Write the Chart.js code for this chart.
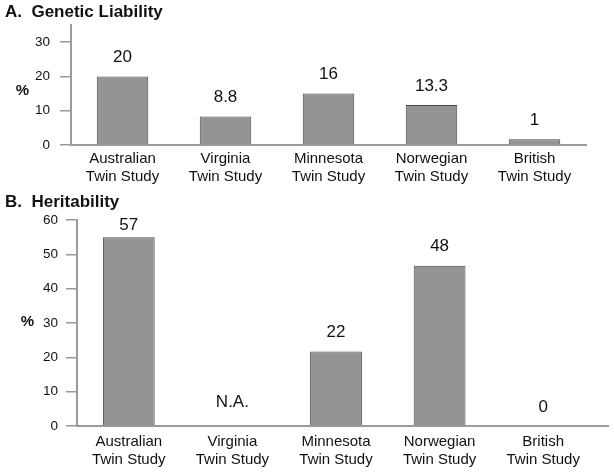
<!DOCTYPE html>
<html>
<head>
<meta charset="utf-8">
<script src="https://cdn.jsdelivr.net/npm/chart.js@4.4.0/dist/chart.umd.min.js"></script>
<style>
  html, body { margin: 0; padding: 0; background: #fff; }
  #wrap { position: relative; width: 614px; height: 472px; }
  .box { position: absolute; left: 0; width: 614px; }
</style>
</head>
<body>
<div id="wrap">
  <div class="box" style="top:0;height:190px"><canvas id="chartA"></canvas></div>
  <div class="box" style="top:190px;height:282px"><canvas id="chartB"></canvas></div>
</div>
<script>
// ---- data ----
const studies = [
  ["Australian", "Twin Study"],
  ["Virginia", "Twin Study"],
  ["Minnesota", "Twin Study"],
  ["Norwegian", "Twin Study"],
  ["British", "Twin Study"]
];

// A. Genetic Liability (bar heights as drawn, labels as printed)
const liabilityBars = [20, 8.3, 15, 11.7, 1.7];
const liabilityText = ["20", "8.8", "16", "13.3", "1"];
const liabilityTicks = [0, 10, 20, 30];

// B. Heritability
const heritBars = [55, null, 21.7, 46.7, 0];
const heritText = ["57", "N.A.", "22", "48", "0"];
const heritTicks = [0, 10, 20, 30, 40, 50, 60];

const FONT = '"Liberation Sans", Arial, sans-serif';
const AXIS = "#9a9a9a";
const INK = "#111";

// draws panel title, the "%" label, the value labels and the axis tail
const panelText = {
  id: "panelText",
  afterDraw(chart, args, opts) {
    const { ctx, chartArea } = chart;
    const x = chart.scales.x, y = chart.scales.y;
    ctx.save();
    ctx.fillStyle = INK;
    ctx.textBaseline = "middle";

    ctx.font = "bold 17px " + FONT;
    ctx.textAlign = "left";
    ctx.fillText(opts.title, 5, opts.titleY);

    ctx.font = "bold 15px " + FONT;
    ctx.textAlign = "center";
    ctx.fillText("%", opts.pctX, opts.pctY);

    ctx.font = "17px " + FONT;
    const data = chart.data.datasets[0].data;
    opts.labels.forEach((txt, i) => {
      const v = data[i];
      let yy = v == null ? y.getPixelForValue(0) - 24 : y.getPixelForValue(v) - 19;
      yy = Math.max(yy, chartArea.top + 5);
      ctx.fillText(txt, x.getPixelForValue(i), yy);
    });

    if (opts.axisTo) {
      ctx.strokeStyle = AXIS;
      ctx.lineWidth = 2;
      ctx.beginPath();
      ctx.moveTo(chartArea.right, chartArea.bottom);
      ctx.lineTo(opts.axisTo, chartArea.bottom);
      ctx.stroke();
    }
    ctx.restore();
  }
};

function makeChart(id, bars, text, yTicks, yMax, cfg) {
  return new Chart(document.getElementById(id), {
    type: "bar",
    data: {
      labels: studies,
      datasets: [{
        data: bars,
        backgroundColor: "#949494",
        borderColor: "#4a4a4a",
        borderWidth: 1,
        barPercentage: 0.5,
        categoryPercentage: 1
      }]
    },
    plugins: [panelText],
    options: {
      responsive: true,
      maintainAspectRatio: false,
      animation: false,
      layout: { padding: { top: cfg.top, right: cfg.right, left: 0, bottom: 0 } },
      plugins: {
        legend: { display: false },
        tooltip: { enabled: false },
        panelText: {
          title: cfg.title, titleY: cfg.titleY,
          pctX: cfg.pctX, pctY: cfg.pctY,
          labels: text, axisTo: cfg.axisTo
        }
      },
      scales: {
        x: {
          grid: { display: false, drawTicks: false },
          border: { display: true, color: AXIS, width: 2 },
          ticks: {
            color: INK, padding: cfg.xPad, maxRotation: 0, autoSkip: false,
            font: { family: FONT, size: 15, lineHeight: cfg.lineH }
          },
          afterFit: (s) => { s.height = cfg.xHeight; }
        },
        y: {
          min: 0, max: yMax,
          grid: { display: true, drawOnChartArea: false, drawTicks: true, tickLength: 11, color: AXIS, lineWidth: 1.5 },
          border: { display: true, color: AXIS, width: 2 },
          ticks: { color: INK, padding: cfg.yPad, font: { family: FONT, size: 13.5 } },
          afterBuildTicks: (s) => { s.ticks = yTicks.map((v) => ({ value: v })); },
          afterFit: (s) => { s.width = cfg.yWidth; }
        }
      }
    }
  });
}

document.addEventListener("DOMContentLoaded", () => {
  makeChart("chartA", liabilityBars, liabilityText, liabilityTicks, 35, {
    title: "A.  Genetic Liability", titleY: 12,
    top: 25, right: 28, yWidth: 71, xHeight: 45,
    xPad: 4, lineH: 1.25, yPad: 10,
    pctX: 22.5, pctY: 91
  });
  makeChart("chartB", heritBars, heritText, heritTicks, 60, {
    title: "B.  Heritability", titleY: 12,
    top: 30, right: 19, yWidth: 77, xHeight: 46,
    xPad: 7, lineH: 1.2, yPad: 8,
    pctX: 27.5, pctY: 132, axisTo: 609
  });
});
</script>
</body>
</html>
